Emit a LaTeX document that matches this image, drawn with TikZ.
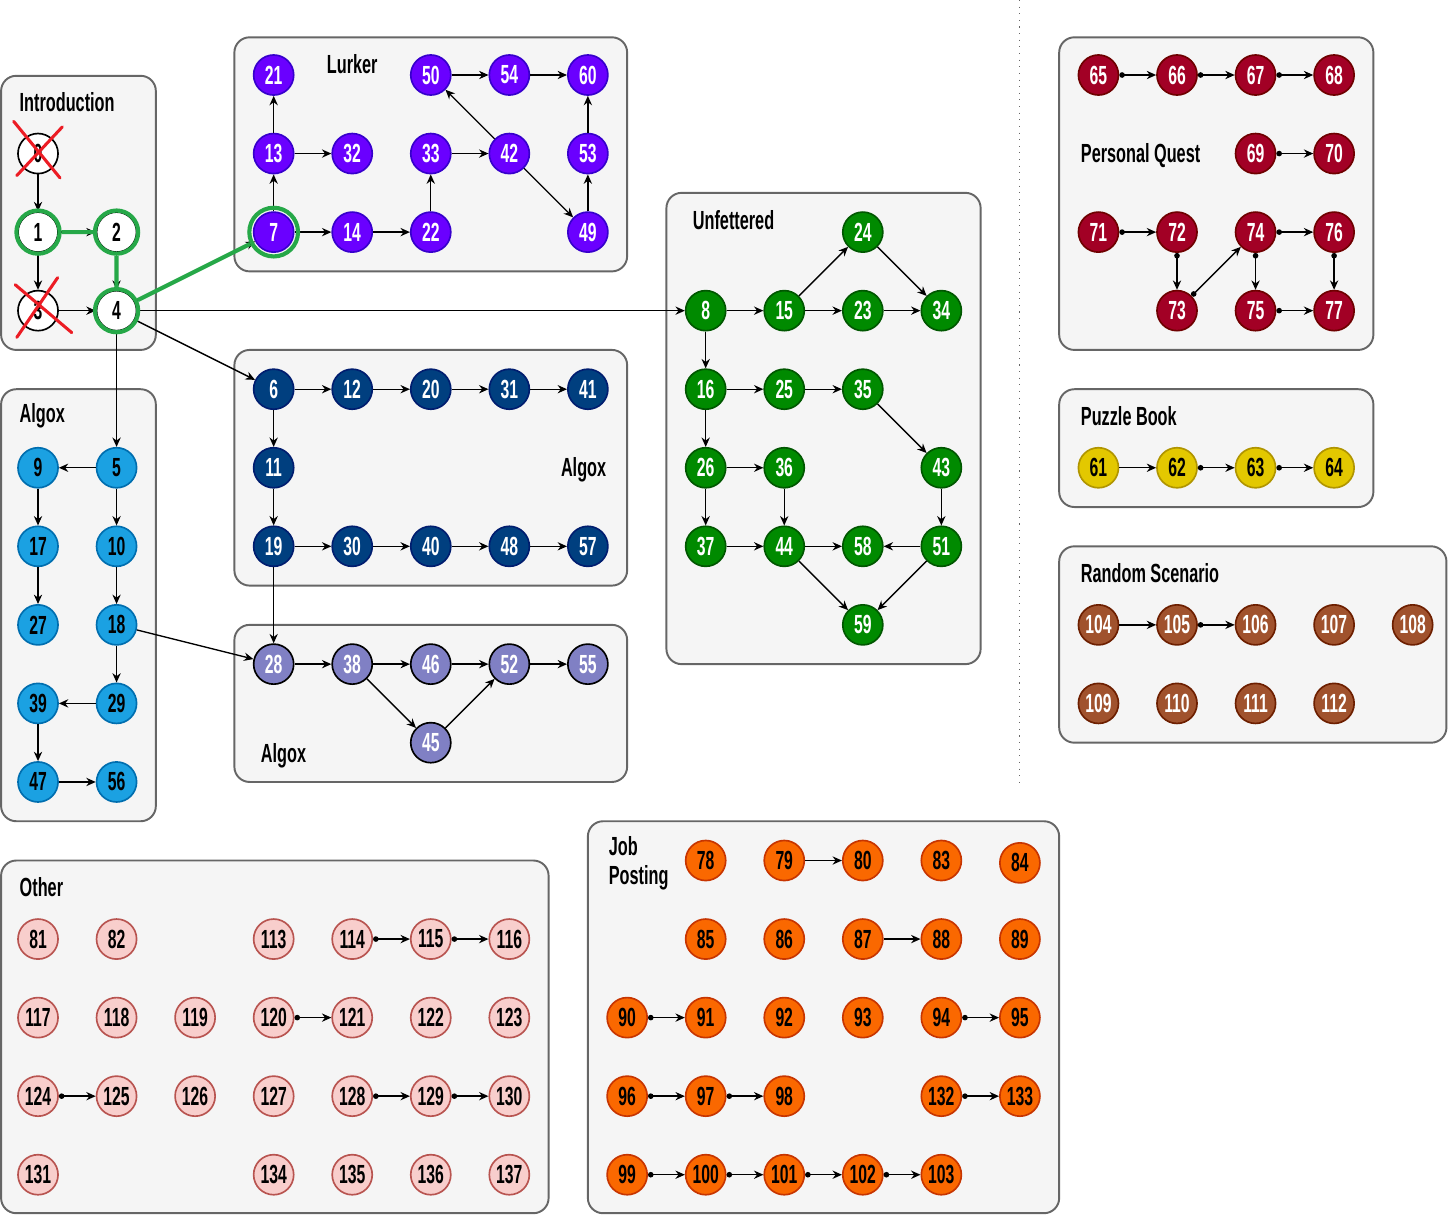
\documentclass[tikz,border=0pt]{standalone}
\usepackage{fontspec}
\newfontfamily\qfont{Liberation Sans}[FakeStretch=0.6]
\newfontfamily\lblfont{Liberation Sans}[FakeStretch=0.62]
\usetikzlibrary{arrows.meta, positioning}

\definecolor{boxgray}{HTML}{F5F5F5}
\definecolor{boxline}{HTML}{666666}
\definecolor{lurkfill}{HTML}{6A00FF}
\definecolor{lurkline}{HTML}{3700CC}
\definecolor{unfill}{HTML}{008A00}
\definecolor{unline}{HTML}{005700}
\definecolor{pqfill}{HTML}{A20025}
\definecolor{pqline}{HTML}{6F0000}
\definecolor{axfill}{HTML}{1BA1E2}
\definecolor{axline}{HTML}{006EAF}
\definecolor{bxfill}{HTML}{003F7F}
\definecolor{bxline}{HTML}{001D6F}
\definecolor{cxfill}{HTML}{8080C4}
\definecolor{pbfill}{HTML}{E3C800}
\definecolor{pbline}{HTML}{B09500}
\definecolor{rsfill}{HTML}{A0522D}
\definecolor{rsline}{HTML}{6D1F00}
\definecolor{otfill}{HTML}{F8CECC}
\definecolor{otline}{HTML}{B85450}
\definecolor{jpfill}{HTML}{FA6800}
\definecolor{jpline}{HTML}{C73500}
\definecolor{hlgreen}{RGB}{38,168,72}
\definecolor{xred}{RGB}{236,28,36}

\begin{document}
\begin{tikzpicture}[
    quest/.style={circle, draw, line width=0.6pt, minimum size=0.51cm, inner sep=0pt,
      font=\qfont\bfseries\fontsize{9.5}{11}\selectfont},
    intro/.style={quest, fill=white, draw=black, text=black},
    lurk/.style={quest, fill=lurkfill, draw=lurkline, text=white},
    unfet/.style={quest, fill=unfill, draw=unline, text=white},
    pquest/.style={quest, fill=pqfill, draw=pqline, text=white},
    algoxa/.style={quest, fill=axfill, draw=axline, text=black},
    algoxb/.style={quest, fill=bxfill, draw=bxline, text=white},
    algoxc/.style={quest, fill=cxfill, draw=black, text=white},
    puzzle/.style={quest, fill=pbfill, draw=pbline, text=black},
    rscen/.style={quest, fill=rsfill, draw=rsline, text=white},
    other/.style={quest, fill=otfill, draw=otline, text=black},
    jobpost/.style={quest, fill=jpfill, draw=jpline, text=black},
    group/.style={rounded corners=5.5pt, fill=boxgray, draw=boxline, line width=0.7pt},
    grouplabel/.style={inner sep=0pt, anchor=west, align=left,
      font=\lblfont\bfseries\fontsize{9.5}{10.5}\selectfont},
    arrow/.style={-{Stealth[length=3.4pt, width=3pt]}, line width=0.5pt},
    dotarrow/.style={{Circle[length=2pt]}-{Stealth[length=3.4pt, width=3pt]}, line width=0.5pt},
    ring/.style={circle, draw=hlgreen, line width=1.5pt, minimum size=0.55cm, inner sep=0pt},
    ringpath/.style={draw=hlgreen, line width=1.5pt},
    cross/.style={draw=xred, line width=1.1pt, line cap=round}
  ]
    \useasboundingbox (-0.484,0.955) rectangle (17.95,-14.513);

    % groups
    \draw[group] (-0.47,-0.01) rectangle (1.5,-3.5);
    \draw[group] (2.5,0.48) rectangle (7.5,-2.5);
    \draw[group] (8,-1.5) rectangle (12,-7.5);
    \draw[group] (13,0.48) rectangle (17,-3.5);
    \draw[group] (-0.47,-4) rectangle (1.5,-9.5);
    \draw[group] (2.5,-3.5) rectangle (7.5,-6.5);
    \draw[group] (2.5,-7) rectangle (7.5,-9);
    \draw[group] (13,-4) rectangle (17,-5.5);
    \draw[group] (13,-6) rectangle (17.93,-8.5);
    \draw[group] (-0.47,-10) rectangle (6.5,-14.49);
    \draw[group] (7,-9.5) rectangle (13,-14.49);

    \draw[dotted, boxline] (12.5,0.955) -- (12.5,-9);

    \node[grouplabel] (lintro) at (-0.24,-0.34) {Introduction};
    \node[grouplabel, anchor=center] (llurk) at (4,0.14) {Lurker};
    \node[grouplabel] (lunfet) at (8.33,-1.85) {Unfettered};
    \node[grouplabel] (lpquest) at (13.27,-1.02) {Personal Quest};
    \node[grouplabel] (lalgoxa) at (-0.24,-4.34) {Algox};
    \node[grouplabel, anchor=east] (lalgoxb) at (7.24,-5.02) {Algox};
    \node[grouplabel] (lalgoxc) at (2.83,-8.67) {Algox};
    \node[grouplabel] (lpuzzle) at (13.27,-4.34) {Puzzle Book};
    \node[grouplabel] (lrscen) at (13.27,-6.34) {Random Scenario};
    \node[grouplabel] (lother) at (-0.24,-10.34) {Other};
    \node[grouplabel] (ljob) at (7.26,-10.04) {Job\\Posting};

    % scenarios
    \foreach \n/\x/\y in {0/0/1, 1/0/2, 2/1/2, 3/0/3, 4/1/3}
      \node[intro] (n\n) at (\x,-\y) {\n};
    \foreach \n/\x/\y in {21/3/0, 13/3/1, 7/3/2, 32/4/1, 14/4/2, 22/5/2, 33/5/1, 50/5/0,
        54/6/0, 60/7/0, 42/6/1, 53/7/1, 49/7/2}
      \node[lurk] (n\n) at (\x,-\y) {\n};
    \foreach \n/\x/\y in {24/10.5/2, 8/8.5/3, 15/9.5/3, 23/10.5/3, 34/11.5/3, 16/8.5/4,
        25/9.5/4, 35/10.5/4, 26/8.5/5, 36/9.5/5, 43/11.5/5, 37/8.5/6, 44/9.5/6,
        58/10.5/6, 51/11.5/6, 59/10.5/7}
      \node[unfet] (n\n) at (\x,-\y) {\n};
    \foreach \n/\x/\y in {65/13.5/0, 66/14.5/0, 67/15.5/0, 68/16.5/0, 69/15.5/1, 70/16.5/1,
        71/13.5/2, 72/14.5/2, 74/15.5/2, 76/16.5/2, 73/14.5/3, 75/15.5/3, 77/16.5/3}
      \node[pquest] (n\n) at (\x,-\y) {\n};
    \foreach \n/\x/\y in {9/0/5, 5/1/5, 17/0/6, 10/1/6, 27/0/7, 18/1/7, 39/0/8, 29/1/8,
        47/0/9, 56/1/9}
      \node[algoxa] (n\n) at (\x,-\y) {\n};
    \foreach \n/\x/\y in {6/3/4, 12/4/4, 20/5/4, 31/6/4, 41/7/4, 11/3/5, 19/3/6, 30/4/6,
        40/5/6, 48/6/6, 57/7/6}
      \node[algoxb] (n\n) at (\x,-\y) {\n};
    \foreach \n/\x/\y in {28/3/7.5, 38/4/7.5, 46/5/7.5, 52/6/7.5, 55/7/7.5, 45/5/8.5}
      \node[algoxc] (n\n) at (\x,-\y) {\n};
    \foreach \n/\x/\y in {61/13.5/5, 62/14.5/5, 63/15.5/5, 64/16.5/5}
      \node[puzzle] (n\n) at (\x,-\y) {\n};
    \foreach \n/\x/\y in {104/13.5/7, 105/14.5/7, 106/15.5/7, 107/16.5/7, 108/17.5/7,
        109/13.5/8, 110/14.5/8, 111/15.5/8, 112/16.5/8}
      \node[rscen] (n\n) at (\x,-\y) {\n};
    \foreach \n/\x/\y in {81/0/11, 82/1/11, 113/3/11, 114/4/11, 115/5/11, 116/6/11,
        117/0/12, 118/1/12, 119/2/12, 120/3/12, 121/4/12, 122/5/12, 123/6/12,
        124/0/13, 125/1/13, 126/2/13, 127/3/13, 128/4/13, 129/5/13, 130/6/13,
        131/0/14, 134/3/14, 135/4/14, 136/5/14, 137/6/14}
      \node[other] (n\n) at (\x,-\y) {\n};
    \foreach \n/\x/\y in {78/8.5/10, 79/9.5/10, 80/10.5/10, 83/11.5/10, 84/12.5/10.03,
        85/8.5/11, 86/9.5/11, 87/10.5/11, 88/11.5/11, 89/12.5/11,
        90/7.5/12, 91/8.5/12, 92/9.5/12, 93/10.5/12, 94/11.5/12, 95/12.5/12,
        96/7.5/13, 97/8.5/13, 98/9.5/13, 132/11.5/13, 133/12.5/13,
        99/7.5/14, 100/8.5/14, 101/9.5/14, 102/10.5/14, 103/11.5/14}
      \node[jobpost] (n\n) at (\x,-\y) {\n};

    % links
    \foreach \a/\b in {0/1, 1/3, 1/2, 3/4, 2/4, 4/7, 4/8, 4/6, 4/5,
        7/13, 13/21, 13/32, 7/14, 14/22, 22/33, 33/42, 42/50, 50/54, 54/60, 42/49, 49/53, 53/60,
        8/15, 15/24, 15/23, 23/34, 24/34, 8/16, 16/25, 25/35, 35/43, 16/26, 26/36, 26/37,
        36/44, 37/44, 44/58, 51/58, 43/51, 44/59, 51/59,
        5/9, 5/10, 9/17, 17/27, 10/18, 18/29, 29/39, 39/47, 47/56, 18/28,
        6/12, 12/20, 20/31, 31/41, 6/11, 11/19, 19/30, 30/40, 40/48, 48/57, 19/28,
        28/38, 38/46, 46/52, 52/55, 38/45, 45/52,
        61/62, 104/105, 79/80, 87/88}
      \draw[arrow] (n\a) -- (n\b);
    \foreach \a/\b in {65/66, 66/67, 67/68, 69/70, 71/72, 72/73, 73/74, 74/76, 74/75, 76/77, 75/77,
        62/63, 63/64, 105/106, 114/115, 115/116, 120/121, 124/125, 128/129, 129/130,
        90/91, 94/95, 96/97, 97/98, 132/133, 99/100, 100/101, 101/102, 102/103}
      \draw[dotarrow] (n\a) -- (n\b);

    % taken path
    \node[ring] (h1) at (n1) {};
    \node[ring] (h2) at (n2) {};
    \node[ring] (h4) at (n4) {};
    \node[ring, minimum size=0.62cm] (h7) at (n7) {};
    \draw[ringpath] (h1) -- (h2) -- (h4) -- (h7);

    % skipped
    \draw[cross] ([shift={(-0.31,0.41)}]n0.center) -- ([shift={(0.28,-0.31)}]n0.center);
    \draw[cross] ([shift={(0.31,0.34)}]n0.center) -- ([shift={(-0.27,-0.28)}]n0.center);
    \draw[cross] ([shift={(-0.29,0.33)}]n3.center) -- ([shift={(0.43,-0.28)}]n3.center);
    \draw[cross] ([shift={(0.25,0.42)}]n3.center) -- ([shift={(-0.27,-0.34)}]n3.center);
\end{tikzpicture}
\end{document}
